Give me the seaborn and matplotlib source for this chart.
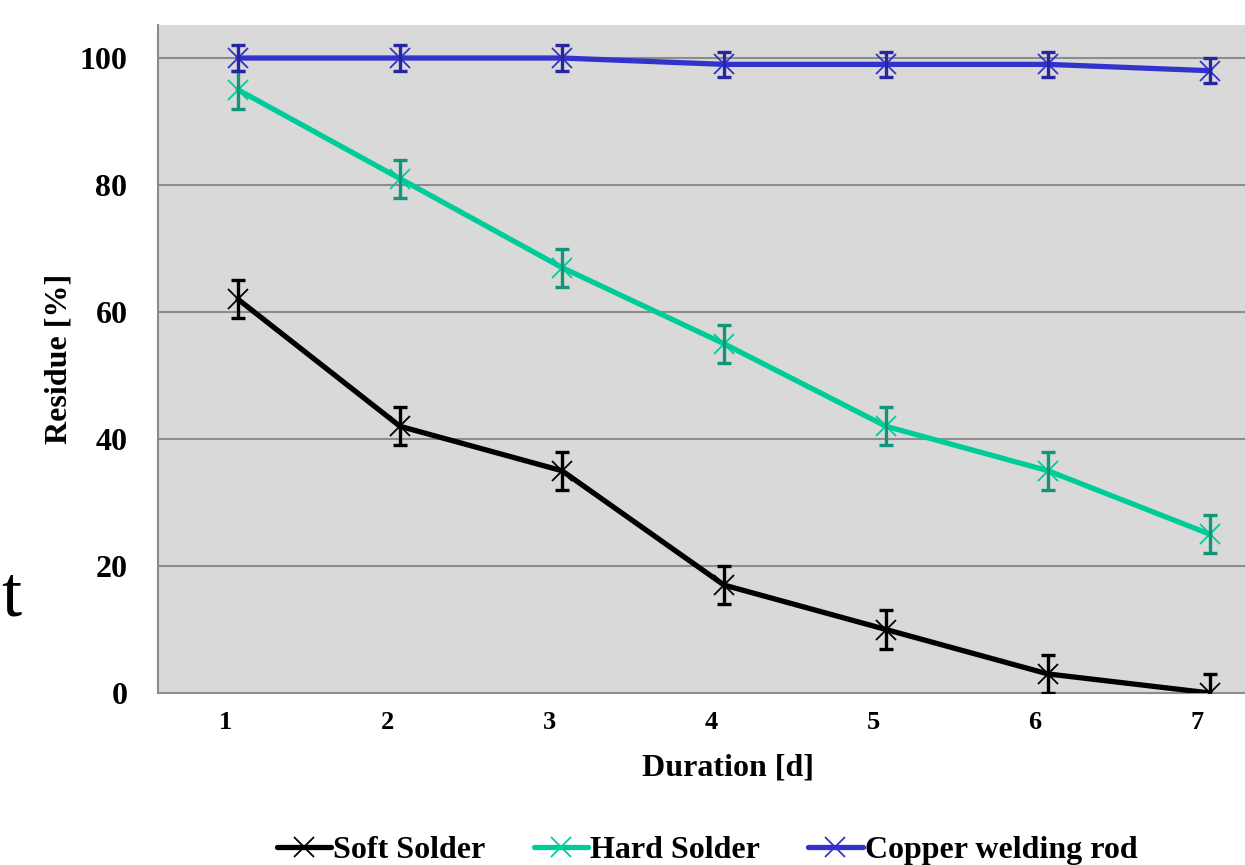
import numpy as np
import pandas as pd
import seaborn as sns
import matplotlib.pyplot as plt
from matplotlib.lines import Line2D

days = [1, 2, 3, 4, 5, 6, 7]
soft_solder = [62, 42, 35, 17, 10, 3, 0]
hard_solder = [95, 81, 67, 55, 42, 35, 25]
copper_rod = [100, 100, 100, 99, 99, 99, 98]
soft_err = [3, 3, 3, 3, 3, 3, 3]
hard_err = [3, 3, 3, 3, 3, 3, 3]
copper_err = [2, 2, 2, 2, 2, 2, 2]
series_names = ["Soft Solder", "Hard Solder", "Copper welding rod"]
line_colors = ["#000000", "#00CC99", "#3333CC"]
err_colors = ["#000000", "#12957A", "#26269E"]

df = pd.DataFrame({
    "Duration": days * 3,
    "Residue": soft_solder + hard_solder + copper_rod,
    "Series": np.repeat(series_names, len(days)),
})

sns.set_style("white")
plt.rcParams["font.family"] = ["Liberation Serif", "DejaVu Serif"]
plt.rcParams["font.weight"] = "bold"
plt.rcParams["text.color"] = "black"
plt.rcParams["axes.labelcolor"] = "black"
plt.rcParams["xtick.labelcolor"] = "black"
plt.rcParams["ytick.labelcolor"] = "black"

fig = plt.figure(figsize=(12.45, 8.65), dpi=100)
ax = fig.add_axes([158 / 1245, 1 - 693 / 865, 1 - 158 / 1245, (693 - 25) / 865])
ax.set_facecolor("#D9D9D9")

for yv in [20, 40, 60, 80, 100]:
    ax.axhline(yv, color="#8C8C8C", lw=1.5, zorder=1)

for name, c in zip(series_names, line_colors):
    sns.lineplot(data=df[df["Series"] == name], x="Duration", y="Residue", color=c,
                 lw=3.8, marker="x", markersize=15, markeredgewidth=1.3,
                 markeredgecolor=c, legend=False, ax=ax, zorder=3)

for vals, errs, c in zip([soft_solder, hard_solder, copper_rod],
                         [soft_err, hard_err, copper_err], err_colors):
    ax.errorbar(days, vals, yerr=errs, fmt="none", ecolor=c, elinewidth=2.4,
                capsize=5, capthick=2.4, zorder=4)

ax.set_xlim(1 - 80 / 162, 7 + 35 / 162)
ax.set_ylim(0, 105.2)
ax.set_yticks([0, 20, 40, 60, 80, 100])
ax.set_xticks([d - 0.5 + 0.006 for d in days])
ax.set_xticklabels([])
ax.set_xticks([d - 0.08 for d in days], minor=True)
ax.set_xticklabels([str(d) for d in days], minor=True, fontsize=19, fontweight="bold")
ax.tick_params(axis="x", which="minor", length=0, pad=13)
ax.tick_params(axis="x", which="major", length=8, width=1.5, color="#8C8C8C", direction="out")
ax.tick_params(axis="y", length=8, width=1.5, color="#8C8C8C", direction="out",
               labelsize=23, pad=14)
for lab in ax.get_yticklabels():
    lab.set_fontweight("bold")

for side in ["top", "right"]:
    ax.spines[side].set_visible(False)
for side in ["left", "bottom"]:
    ax.spines[side].set_color("#8C8C8C")
    ax.spines[side].set_linewidth(1.5)

ax.set_xlabel("Duration [d]", fontsize=23, fontweight="bold")
ax.set_ylabel("Residue [%]", fontsize=23, fontweight="bold")
ax.xaxis.set_label_coords((728 - 158) / (1245 - 158), -(768 - 693) / (693 - 25), transform=ax.transAxes)
ax.xaxis.label.set_va("center")
ax.yaxis.set_label_coords(-(158 - 59) / (1245 - 158), 0.5)
ax.yaxis.label.set_va("center")

handles = [Line2D([], [], color=c, lw=3.8, marker="x", markersize=15, markeredgewidth=1.3)
           for c in line_colors]
fig.legend(handles, series_names, loc="center", bbox_to_anchor=(0.568, 1 - 850 / 865),
           ncol=3, frameon=False, handlelength=1.7, handletextpad=0.08,
           columnspacing=1.5, prop={"weight": "bold", "size": 23})

fig.text(0.001, 1 - 615 / 865, "t", fontsize=52, fontweight="normal", va="baseline", ha="left")

fig.savefig("out.png", dpi=100)
